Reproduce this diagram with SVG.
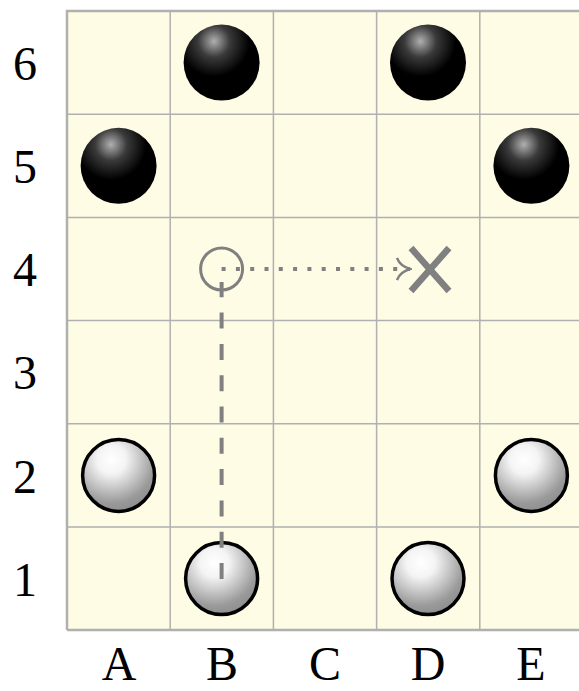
<svg xmlns="http://www.w3.org/2000/svg" width="579" height="691" viewBox="0 0 579 691">
<defs>
<radialGradient id="gb" cx="0.4" cy="0.22" r="0.75" fx="0.4" fy="0.22">
<stop offset="0" stop-color="#b0b0b0"/>
<stop offset="0.28" stop-color="#3a3a3a"/>
<stop offset="0.62" stop-color="#000"/>
<stop offset="1" stop-color="#000"/>
</radialGradient>
<radialGradient id="gw" cx="0.4" cy="0.28" r="0.8" fx="0.4" fy="0.28">
<stop offset="0" stop-color="#fff"/>
<stop offset="0.25" stop-color="#f4f4f4"/>
<stop offset="0.75" stop-color="#9a9a9a"/>
<stop offset="1" stop-color="#888"/>
</radialGradient>
<marker id="arr" viewBox="0 0 16 24" refX="14" refY="12" markerWidth="16" markerHeight="24" markerUnits="userSpaceOnUse" orient="auto">
<path d="M1,1 Q4,9 14,12 Q4,15 1,23" fill="none" stroke="#808080" stroke-width="2.4"/>
</marker>
</defs>
<style>
.grid{stroke:#b0b0b0;stroke-width:1.5;fill:none}
.lbl{font-family:"Liberation Serif","Times New Roman",serif;font-size:48px;fill:#000;text-anchor:middle}
.blk{fill:url(#gb)}
.wht{fill:url(#gw);stroke:#000;stroke-width:3.5}
.mark{stroke:#808080;fill:none}
</style>
<rect width="579" height="691" fill="#fff"/>
<g id="board">
<rect x="67" y="11" width="520" height="619" fill="#fefce5"/>
<path class="grid" d="M170.2,11V630M273.4,11V630M376.6,11V630M479.8,11V630M67,114.2H579M67,217.4H579M67,320.6H579M67,423.8H579M67,527H579"/>
<path d="M67,630V11H579M67,630H579" fill="none" stroke="#b0b0b0" stroke-width="2.5"/>
</g>
<g id="labels">
<text class="lbl" x="25" y="80">6</text>
<text class="lbl" x="25" y="183">5</text>
<text class="lbl" x="25" y="286">4</text>
<text class="lbl" x="25" y="389">3</text>
<text class="lbl" x="25" y="493">2</text>
<text class="lbl" x="25" y="596">1</text>
<text class="lbl" x="119" y="680">A</text>
<text class="lbl" x="222" y="680">B</text>
<text class="lbl" x="325" y="680">C</text>
<text class="lbl" x="428" y="680">D</text>
<text class="lbl" x="531" y="680">E</text>
</g>
<g id="stone-B6"><circle class="blk" cx="221.6" cy="62.6" r="38"/></g>
<g id="stone-D6"><circle class="blk" cx="428" cy="62.6" r="38"/></g>
<g id="stone-A5"><circle class="blk" cx="118.6" cy="165.8" r="38"/></g>
<g id="stone-E5"><circle class="blk" cx="531.4" cy="165.8" r="38"/></g>
<g id="stone-A2"><circle class="wht" cx="118.6" cy="475.4" r="36"/></g>
<g id="stone-E2"><circle class="wht" cx="531.4" cy="475.4" r="36"/></g>
<g id="stone-B1"><circle class="wht" cx="221.6" cy="578.6" r="36"/></g>
<g id="stone-D1"><circle class="wht" cx="428" cy="578.6" r="36"/></g>
<g id="connectors">
<path class="mark" d="M221.6,579V282" stroke-width="4" stroke-dasharray="16 15.3"/>
<path class="mark" d="M221.6,269H410" stroke-width="4" stroke-dasharray="4 10.3" marker-end="url(#arr)"/>
</g>
<g id="target-B4"><circle class="mark" cx="221.6" cy="269" r="21" stroke-width="3"/></g>
<g id="target-D4"><path class="mark" d="M411,248L449,291M411,291L449,248" stroke-width="6.5"/></g>
</svg>
